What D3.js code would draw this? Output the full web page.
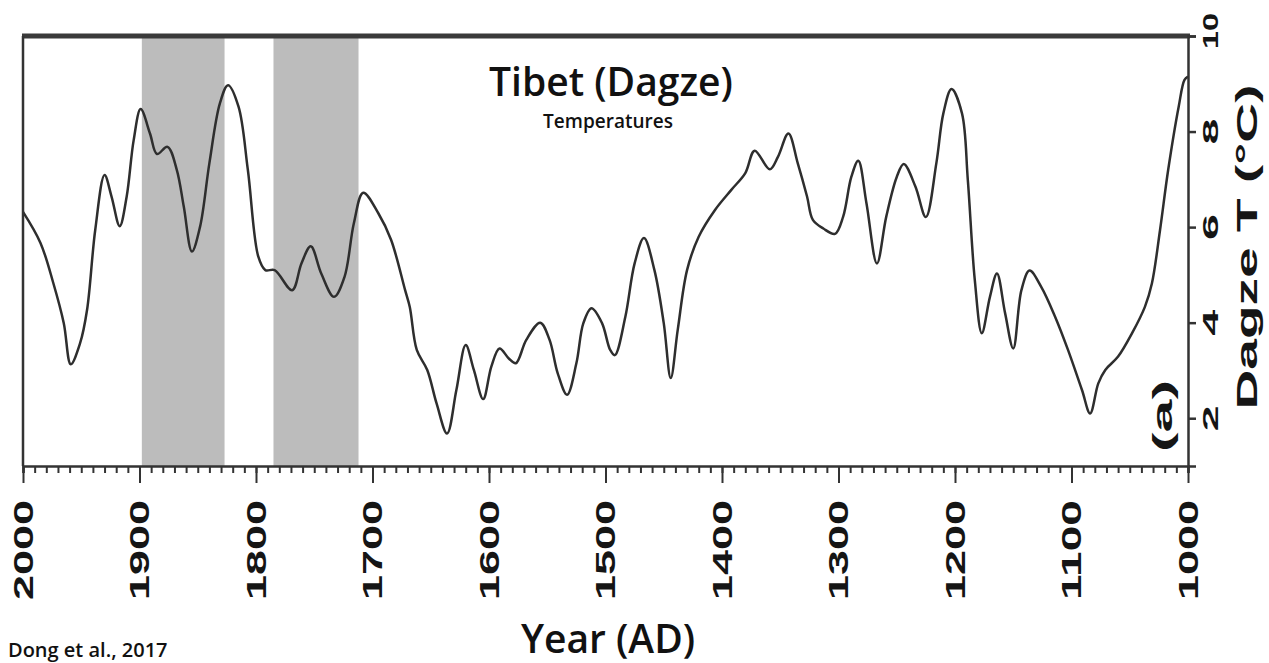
<!DOCTYPE html>
<html><head><meta charset="utf-8">
<script src="https://cdn.jsdelivr.net/npm/d3@7"></script>
<style>html,body{margin:0;padding:0;background:#fff;}svg{display:block;}</style>
</head><body>
<svg id="chart" width="1269" height="663"></svg>
<script>
// Data (Year AD, Dagze temperature °C)
const years = [2000,1985,1974,1965,1959,1951,1945,1938,1930,1924,1917,1911,1905,1899,1891,1885,1876,1868,1862,1855,1848,1840,1831,1824,1815,1807,1798,1792,1784,1769,1761,1753,1744,1733,1724,1716,1708,1695,1684,1672,1668,1662,1653,1645,1636,1628,1620,1613,1605,1598,1591,1583,1577,1568,1556,1548,1541,1533,1525,1519,1512,1503,1496,1492,1483,1475,1467,1458,1450,1444,1438,1430,1420,1406,1392,1380,1372,1359,1352,1343,1335,1327,1322,1313,1303,1296,1289,1283,1276,1267,1259,1250,1244,1234,1225,1216,1210,1203,1194,1189,1183,1177,1170,1164,1157,1150,1143,1136,1126,1114,1103,1091,1084,1077,1071,1060,1048,1037,1031,1024,1017,1008,1003,1000];
const temps = [6.32,5.67,4.83,3.99,3.13,3.57,4.27,5.94,7.09,6.64,6.02,6.64,7.82,8.47,7.96,7.53,7.68,7.2,6.43,5.49,6.01,7.34,8.59,8.97,8.52,7.2,5.38,5.1,5.1,4.68,5.24,5.6,5.03,4.54,4.96,6.08,6.72,6.29,5.73,4.68,4.33,3.43,3.01,2.31,1.68,2.59,3.53,3.01,2.4,3.08,3.46,3.25,3.15,3.64,4.0,3.64,2.94,2.49,3.15,3.99,4.3,3.99,3.43,3.32,4.12,5.24,5.77,5.1,3.99,2.84,3.85,5.1,5.8,6.36,6.78,7.13,7.6,7.21,7.47,7.96,7.34,6.64,6.15,5.97,5.86,6.22,7.05,7.39,6.5,5.24,6.22,7.05,7.32,6.85,6.21,7.34,8.38,8.89,8.38,6.99,4.89,3.78,4.54,5.03,4.2,3.46,4.68,5.09,4.75,4.12,3.43,2.59,2.1,2.73,3.01,3.29,3.78,4.33,4.82,5.94,7.2,8.52,9.08,9.15];
const bandStart = [1898, 1785];
const bandEnd = [1827, 1712];
const xTicks = [2000,1900,1800,1700,1600,1500,1400,1300,1200,1100,1000];
const yTicks = [2,4,6,8,10];

const svg = d3.select("#chart");
const L = 23, R = 1188, T = 36, B = 466;
const x = d3.scaleLinear().domain([2000, 1000]).range([L, R]);
const y = d3.scaleLinear().domain([1, 10]).range([B, T]);

// grey bands
svg.selectAll("rect.band").data(bandStart).enter().append("rect")
  .attr("class","band")
  .attr("x", (d,i) => x(d))
  .attr("width", (d,i) => x(bandEnd[i]) - x(d))
  .attr("y", T).attr("height", B - T)
  .attr("fill", "#bcbcbc");

// curve
const pts = years.map((yr,i) => [yr, temps[i]]);
svg.append("path").datum(pts)
  .attr("fill","none").attr("stroke","#2e2e2e").attr("stroke-width",2.5)
  .attr("stroke-linejoin","round")
  .attr("d", d3.line().x(d => x(d[0])).y(d => y(d[1])).curve(d3.curveCatmullRom.alpha(0.5)));

// top frame line
svg.append("line").attr("x1", L-1).attr("x2", R+2).attr("y1", T).attr("y2", T)
  .attr("stroke","#3a3a3a").attr("stroke-width",5);
// left frame line
svg.append("line").attr("x1", L).attr("x2", L).attr("y1", T).attr("y2", B)
  .attr("stroke","#333").attr("stroke-width",2.5);

// bottom axis
const minor = d3.range(2000, 999, -10);
const gx = svg.append("g").attr("transform", `translate(0,${B})`);
gx.call(d3.axisBottom(x).tickValues(minor).tickSize(7).tickFormat(""));
gx.select(".domain").attr("stroke","#333").attr("stroke-width",2.5);
gx.selectAll(".tick line").attr("stroke","#333").attr("stroke-width",2);
const gx2 = svg.append("g").attr("transform", `translate(0,${B})`);
gx2.call(d3.axisBottom(x).tickValues(xTicks).tickSize(17).tickFormat(""));
gx2.select(".domain").remove();
gx2.selectAll(".tick line").attr("stroke","#333").attr("stroke-width",2);
svg.selectAll("text.xl").data(xTicks).enter().append("text")
  .attr("class","xl")
  .attr("transform", d => `translate(${x(d)},500) rotate(-90)`)
  .attr("text-anchor","end").attr("dy","0.36em")
  .attr("font-family","Liberation Sans, Arial, sans-serif").attr("font-weight","bold")
  .attr("font-size",27).attr("fill","#151515")
  .attr("textLength",100).attr("lengthAdjust","spacingAndGlyphs")
  .text(d => d);

// right axis
const gy = svg.append("g").attr("transform", `translate(${R},0)`);
gy.call(d3.axisRight(y).tickValues(yTicks).tickSize(8).tickFormat(""));
gy.select(".domain").attr("stroke","#333").attr("stroke-width",2.5);
gy.selectAll(".tick line").attr("stroke","#333").attr("stroke-width",2.5);
svg.selectAll("text.yl").data(yTicks).enter().append("text")
  .attr("class","yl")
  .attr("transform", d => `translate(1210,${y(d) - (d===10?5:0)}) rotate(-90)`)
  .attr("text-anchor","middle").attr("dy","0.36em")
  .attr("font-family","Liberation Sans, Arial, sans-serif").attr("font-weight","bold")
  .attr("font-size",22).attr("fill","#151515")
  .attr("textLength", d => d===10 ? 36 : 26).attr("lengthAdjust","spacingAndGlyphs")
  .text(d => d);

svg.append("text")
  .attr("transform","translate(1247,247) rotate(-90)")
  .attr("text-anchor","middle").attr("dy","0.36em")
  .attr("font-family","Liberation Sans, Arial, sans-serif").attr("font-weight","bold")
  .attr("font-size",29).attr("fill","#151515")
  .attr("textLength",325).attr("lengthAdjust","spacingAndGlyphs")
  .text("Dagze T (°C)");

svg.append("text")
  .attr("transform","translate(1162,416) rotate(-90)")
  .attr("text-anchor","middle").attr("dy","0.36em")
  .attr("font-family","Liberation Sans, Arial, sans-serif").attr("font-weight","bold")
  .attr("font-size",27).attr("fill","#151515")
  .attr("textLength",72).attr("lengthAdjust","spacingAndGlyphs")
  .text("(a)");

// titles
svg.append("text").attr("x",611).attr("y",96).attr("text-anchor","middle")
  .attr("font-family","Open Sans, sans-serif").attr("font-weight",600)
  .attr("font-size",39).attr("fill","#111").text("Tibet (Dagze)");
svg.append("text").attr("x",608).attr("y",128).attr("text-anchor","middle")
  .attr("font-family","Open Sans, sans-serif").attr("font-weight",600)
  .attr("font-size",19).attr("fill","#111").text("Temperatures");
svg.append("text").attr("x",608).attr("y",653).attr("text-anchor","middle")
  .attr("font-family","Open Sans, sans-serif").attr("font-weight",600)
  .attr("font-size",39).attr("fill","#111").text("Year (AD)");
svg.append("text").attr("x",8).attr("y",657)
  .attr("font-family","Open Sans, sans-serif").attr("font-weight",600)
  .attr("font-size",20).attr("fill","#111").text("Dong et al., 2017");
</script>
</body></html>
